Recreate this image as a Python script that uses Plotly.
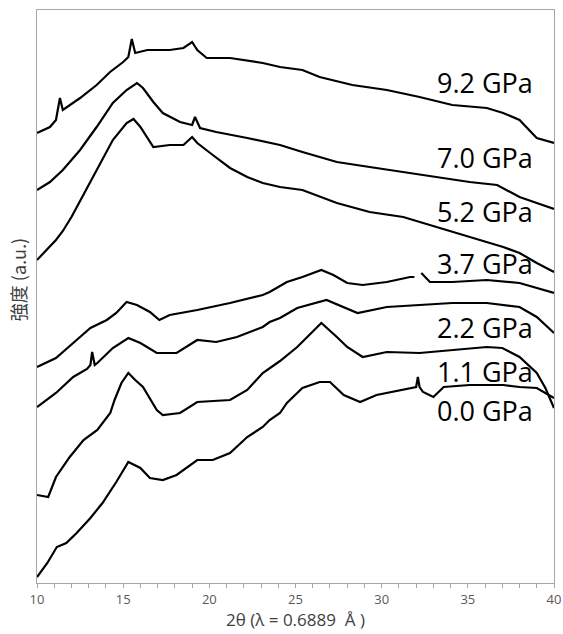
import plotly.graph_objects as go

# 2θ values and intensities (arbitrary units, stacked)
x_92 = [10, 10.75, 11.1, 11.33, 11.5, 12.5, 13.46, 14.24, 15.0, 15.3, 15.5, 15.7, 16.4, 17.7, 18.5, 19.0, 19.3, 19.85,
        21.2, 23.1, 24.1, 25.4, 26.4, 28.3, 30.3, 32.2, 34.1, 36.1, 37.05, 38.0, 39.0, 40.0]
y_92 = [450, 456, 463, 485, 473, 485, 498, 511, 521, 526, 544, 530, 533, 533, 535, 541, 533, 525,
        525, 520, 516, 513, 506, 498, 493, 486, 478, 475, 470, 463, 445, 440]

x_70 = [10, 10.75, 11.5, 12.5, 13.46, 14.4, 15.2, 15.8, 16.15, 16.75, 17.3, 18.3, 19.0, 19.17, 19.46, 20.4, 22.2,
        24.1, 25.4, 27.4, 29.3, 31.25, 33.2, 35.1, 36.7, 38.0, 39.0, 40.0]
y_70 = [393, 401, 413, 433, 456, 480, 493, 500, 495, 481, 470, 461, 458, 466, 455, 451, 445,
        438, 431, 421, 416, 411, 406, 401, 398, 386, 380, 374]

x_52 = [10, 10.5, 11.1, 11.5, 12.0, 12.5, 13.0, 13.5, 14.0, 14.4, 15.2, 15.6, 16.0, 16.75, 17.7, 18.5, 19.0, 19.3,
        20.2, 21.2, 22.2, 23.1, 24.1, 25.4, 27.4, 29.3, 31.25, 33.2, 35.1, 37.05, 38.0, 39.0, 40.0]
y_52 = [323, 332, 343, 352, 366, 382, 398, 414, 430, 443, 460, 464, 456, 436, 438, 438, 446, 440,
        428, 415, 406, 400, 396, 393, 380, 371, 366, 356, 346, 336, 330, 320, 311]

x_37 = [10, 11.1, 12.1, 13.1, 14.05, 14.6, 15.2, 15.8, 16.55, 17.1, 17.7, 19.3, 21.2, 23.1, 23.5, 24.5, 25.4, 26.5,
        27.2, 28.0, 28.9, 30.3, 31.65, 31.9, None, 32.3, 32.4, 32.8, 34.1, 36.1, 38.0, 40.0]
y_37 = [216, 225, 240, 255, 263, 270, 281, 278, 271, 263, 268, 273, 280, 288, 291, 301, 306, 313,
        308, 300, 298, 301, 306, 306, None, 310, 308, 301, 301, 303, 300, 290]

x_22 = [10, 11.1, 12.1, 12.9, 13.1, 13.2, 13.35, 13.5, 14.4, 15.3, 16.0, 16.95, 18.1, 19.3, 20.4, 21.6, 23.1, 23.5,
        24.1, 25.1, 26.8, 27.8, 28.6, 30.3, 32.2, 34.1, 36.1, 38.0, 39.0, 40.0]
y_22 = [176, 190, 206, 214, 218, 231, 218, 220, 235, 245, 240, 230, 230, 243, 241, 246, 256, 261,
        265, 275, 283, 276, 270, 276, 278, 280, 280, 276, 266, 250]

x_11 = [10, 10.65, 11.1, 11.9, 12.7, 13.5, 14.25, 14.5, 14.9, 15.3, 15.7, 16.15, 16.95, 17.3, 18.3, 19.3, 21.2,
        22.2, 23.1, 23.5, 24.1, 25.1, 26.5, 27.4, 28.0, 28.9, 30.3, 32.2, 34.1, 36.1, 37.0, 38.0, 39.0, 39.5, 40.0]
y_11 = [88, 86, 106, 126, 143, 153, 170, 183, 200, 210, 203, 196, 173, 168, 170, 181, 183,
        193, 210, 215, 222, 236, 260, 246, 236, 226, 231, 230, 233, 236, 235, 226, 210, 195, 175]

x_00 = [10, 10.6, 11.15, 11.7, 12.3, 13.1, 13.8, 14.6, 15.3, 16.0, 16.55, 17.3, 18.1, 19.3, 20.2, 21.2, 22.2, 23.1,
        23.5, 24.1, 24.5, 25.4, 26.4, 27.0, 27.8, 28.75, 29.7, 31.25, 32.0, 32.1, 32.2, 32.4, 33.0, 33.6, 35.1,
        37.05, 38.0, 39.0, 40.0]
y_00 = [6, 20, 36, 40, 50, 65, 80, 101, 121, 115, 105, 103, 108, 123, 123, 130, 146, 156,
        163, 170, 180, 195, 201, 201, 188, 181, 188, 193, 196, 206, 196, 191, 186, 196, 198,
        198, 196, 195, 185]

series = [
    ("9.2 GPa", x_92, y_92),
    ("7.0 GPa", x_70, y_70),
    ("5.2 GPa", x_52, y_52),
    ("3.7 GPa", x_37, y_37),
    ("2.2 GPa", x_22, y_22),
    ("1.1 GPa", x_11, y_11),
    ("0.0 GPa", x_00, y_00),
]

label_x = 33.1
label_names = ["9.2 GPa", "7.0 GPa", "5.2 GPa", "3.7 GPa", "2.2 GPa", "1.1 GPa", "0.0 GPa"]
label_y = [501, 426, 372, 320, 256, 212, 173]

fig = go.Figure()
for name, xs, ys in series:
    fig.add_trace(go.Scatter(x=xs, y=ys, mode="lines", name=name,
                             line=dict(color="black", width=2.2), connectgaps=False,
                             showlegend=False, hoverinfo="skip"))

for name, ly in zip(label_names, label_y):
    fig.add_annotation(x=label_x, y=ly, text=name, showarrow=False, xanchor="left", yanchor="middle",
                       font=dict(family="Open Sans", size=27, color="black"))

fig.add_annotation(xref="paper", yref="paper", x=-0.037, y=0.53, text="強度 (a.u.)", textangle=-90,
                   showarrow=False, xanchor="center", yanchor="middle",
                   font=dict(family="Noto Sans CJK JP", size=18, color="#404040"))

fig.update_layout(
    width=563, height=634, autosize=False,
    margin=dict(l=37, r=9, t=10, b=51, autoexpand=False),
    paper_bgcolor="white", plot_bgcolor="white",
    font=dict(family="Open Sans", color="#595959"),
    xaxis=dict(range=[10, 40], tickvals=[10, 15, 20, 25, 30, 35, 40], automargin=False,
               ticks="outside", ticklen=4, tickcolor="#a6a6a6", tickwidth=1,
               minor=dict(dtick=1, ticks="outside", ticklen=4, tickcolor="#a6a6a6"),
               showline=True, linecolor="#a6a6a6", linewidth=1, mirror=True,
               showgrid=False, zeroline=False,
               tickfont=dict(size=13, color="#595959"),
               title=dict(text="2θ (λ = 0.6889  Å )", font=dict(size=17, color="#404040"), standoff=3)),
    yaxis=dict(range=[0, 573], showticklabels=False, ticks="", showgrid=False, zeroline=False, automargin=False,
               showline=True, linecolor="#a6a6a6", linewidth=1, mirror=True),
)

fig.write_html("out.html", config={"displayModeBar": False},
               post_script="document.body.style.margin='0';document.body.style.overflow='hidden';")
